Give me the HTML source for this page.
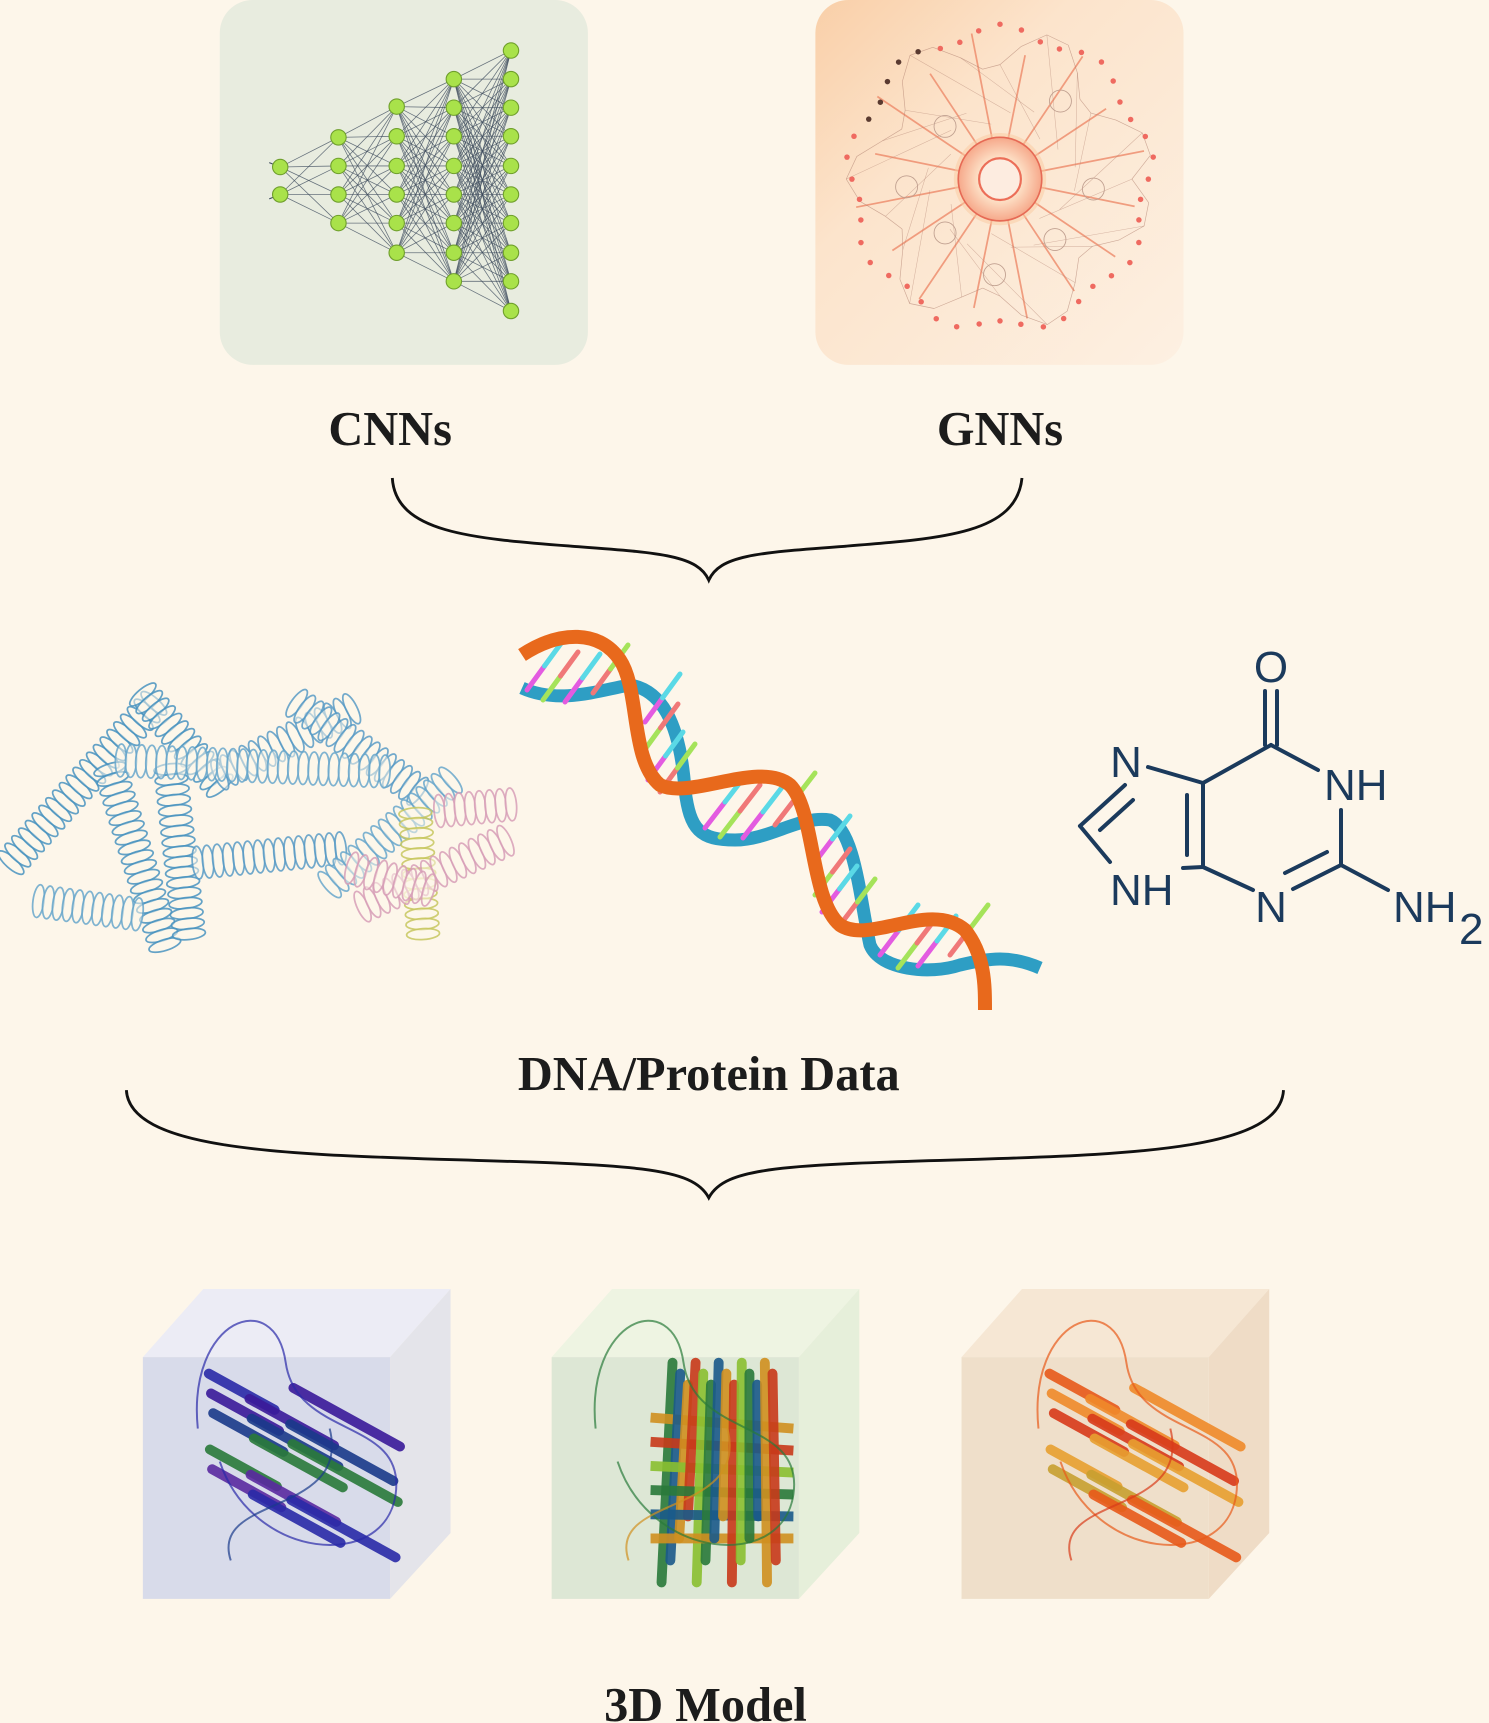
<!DOCTYPE html>
<html><head><meta charset="utf-8"><style>
html,body{margin:0;padding:0;background:#fdf6ea;}
svg{display:block}
.lbl{font-family:"Liberation Serif",serif;font-weight:bold;fill:#1c1c1c;}
.mol{font-family:"Liberation Sans",sans-serif;fill:#1b3a5c;font-size:44px}
</style></head><body>
<svg id="s" width="1489" height="1723" viewBox="0 0 1489 1723" xmlns="http://www.w3.org/2000/svg">
<defs>
<linearGradient id="gg" x1="0" y1="0" x2="1" y2="1">
<stop offset="0" stop-color="#f9cfa8"/><stop offset="0.35" stop-color="#fce4cc"/><stop offset="1" stop-color="#fdf0e2"/></linearGradient>
<radialGradient id="ring" cx="0.5" cy="0.5" r="0.5"><stop offset="0.5" stop-color="#fde2c8"/><stop offset="1" stop-color="#f6a88a"/></radialGradient>
</defs>
<rect width="1489" height="1723" fill="#fdf6ea"/>
<g transform="scale(1.0989)">
<rect x="200" y="0" width="335" height="332" rx="30" fill="#e8ecdf"/>
<g id="nn"></g>
<rect x="742" y="0" width="335" height="332" rx="30" fill="url(#gg)"/>
<g id="gnn"></g>
<text class="lbl" x="355" y="405" font-size="44" text-anchor="middle">CNNs</text>
<text class="lbl" x="910" y="405" font-size="44" text-anchor="middle">GNNs</text>
<path d="M357,435 C360,485 430,490 520,497 C600,503 635,505 645,528 C655,505 690,503 770,497 C860,490 925,485 930,435" fill="none" stroke="#111" stroke-width="2.6"/>
<g id="prot"></g>
<text class="lbl" x="645" y="992" font-size="44" text-anchor="middle">DNA/Protein Data</text>
<path d="M115,992 C118,1045 250,1050 400,1055 C580,1060 630,1062 645,1090 C660,1062 710,1060 890,1055 C1040,1050 1165,1045 1168,992" fill="none" stroke="#111" stroke-width="2.6"/>
<g id="cubes"></g>
<text class="lbl" x="642" y="1566" font-size="44" text-anchor="middle">3D Model</text>
</g>
<!-- DNA in original coords -->
<g id="dna">
<path d="M522,688 C560,705 600,690 630,685 C660,690 680,720 685,790 C690,830 700,840 735,840 C770,840 800,815 830,820 C855,830 860,900 870,945 C880,970 930,975 960,965 C990,958 1010,955 1040,968" fill="none" stroke="#2e9ec4" stroke-width="13"/>
<g id="rungs"></g>
<path d="M522,655 C560,630 600,630 620,660 C640,690 630,760 660,785 C690,800 760,760 790,785 C815,810 810,900 840,925 C870,945 930,900 965,930 C985,955 985,985 985,1010" fill="none" stroke="#e8691c" stroke-width="14"/>
</g>
<!-- guanine -->
<g stroke="#1b3a5c" stroke-width="4" fill="none" stroke-linecap="round">
<line x1="1265" y1="691" x2="1265" y2="745"/><line x1="1277" y1="691" x2="1277" y2="745"/>
<line x1="1271" y1="745" x2="1318" y2="770"/>
<line x1="1341" y1="810" x2="1341" y2="865"/>
<line x1="1341" y1="865" x2="1293" y2="889"/><line x1="1327" y1="852" x2="1285" y2="873"/>
<line x1="1341" y1="865" x2="1388" y2="890"/>
<line x1="1253" y1="890" x2="1203" y2="867"/>
<line x1="1203" y1="867" x2="1203" y2="783"/><line x1="1187" y1="795" x2="1187" y2="855"/>
<line x1="1203" y1="783" x2="1271" y2="745"/>
<line x1="1203" y1="783" x2="1148" y2="767"/>
<line x1="1125" y1="785" x2="1080" y2="826"/><line x1="1133" y1="800" x2="1100" y2="830"/>
<line x1="1080" y1="826" x2="1110" y2="862"/>
<line x1="1183" y1="868" x2="1203" y2="867"/>
</g>
<text class="mol" x="1271" y="682" text-anchor="middle">O</text>
<text class="mol" x="1324" y="800">NH</text>
<text class="mol" x="1126" y="777" text-anchor="middle">N</text>
<text class="mol" x="1110" y="905">NH</text>
<text class="mol" x="1271" y="922" text-anchor="middle">N</text>
<text class="mol" x="1393" y="922">NH</text>
<text class="mol" x="1459" y="944" font-size="34">2</text>
</svg>
<script>
var NS="http://www.w3.org/2000/svg";
function el(p,t,a){var e=document.createElementNS(NS,t);for(var k in a)e.setAttribute(k,a[k]);p.appendChild(e);return e;}
// NN
var nn=document.getElementById('nn');
var layers=[[255,[152,177]],[308,[125,151,177,203]],[361,[97,124,151,177,203,230]],[413,[72,98,124,151,177,203,230,256]],[465,[46,72,98,124,151,177,203,230,256,283]]];
for(var i=0;i<layers.length-1;i++){var a=layers[i],b=layers[i+1];a[1].forEach(function(y1){b[1].forEach(function(y2){el(nn,'line',{x1:a[0],y1:y1,x2:b[0],y2:y2,stroke:'#3c4a5c','stroke-width':0.7,opacity:0.75});});});}
el(nn,'line',{x1:245,y1:148,x2:255,y2:152,stroke:'#3c4a5c'});el(nn,'line',{x1:245,y1:181,x2:255,y2:177,stroke:'#3c4a5c'});
layers.forEach(function(l){l[1].forEach(function(y){el(nn,'circle',{cx:l[0],cy:y,r:7,fill:'#a9e24a',stroke:'#6f9f2c','stroke-width':1});});});
// GNN
var g=document.getElementById('gnn'),cx=910,cy=163;
for(var k=0;k<16;k++){var an=k/16*2*Math.PI+0.2;var R=125+10*Math.sin(k*3);el(g,'line',{x1:cx+35*Math.cos(an),y1:cy+35*Math.sin(an),x2:cx+R*Math.cos(an),y2:cy+R*Math.sin(an),stroke:'#ee8a6a','stroke-width':1.6,opacity:0.8});}
var pts=[];for(var k=0;k<40;k++){var an=k/40*2*Math.PI;var R=120+20*Math.sin(k*7.3);pts.push([cx+R*Math.cos(an),cy+R*Math.sin(an)]);}
for(var k=0;k<40;k++){var p=pts[k],q=pts[(k+1)%40],r=pts[(k+5)%40];el(g,'line',{x1:p[0],y1:p[1],x2:q[0],y2:q[1],stroke:'#b08070','stroke-width':0.6,opacity:0.6});if(k%2==0)el(g,'line',{x1:p[0],y1:p[1],x2:(r[0]+cx)/2,y2:(r[1]+cy)/2,stroke:'#b08070','stroke-width':0.5,opacity:0.5});}
for(var k=0;k<44;k++){var an=k/44*2*Math.PI;var R=135+6*Math.sin(k*5);el(g,'circle',{cx:cx+R*Math.cos(an),cy:cy+R*Math.sin(an),r:2.5,fill:(k>24&&k<30)?'#5a3a30':'#ef6a60'});}
[[860,115],[965,92],[995,172],[825,170],[860,212],[960,218],[905,250]].forEach(function(c){el(g,'circle',{cx:c[0],cy:c[1],r:10,fill:'none',stroke:'#c0a090','stroke-width':0.8});});
el(g,'circle',{cx:cx,cy:cy,r:42,fill:'#f9c9a0',opacity:0.5});
el(g,'circle',{cx:cx,cy:cy,r:38,fill:'url(#ring)',stroke:'#e66a55','stroke-width':1.5});
el(g,'circle',{cx:cx,cy:cy,r:19,fill:'#fdece0',stroke:'#ec6e58','stroke-width':2});
// protein helices
var pr=document.getElementById('prot');
var H=[[10,785,140,640,'#4a94c0'],[130,632,200,715,'#4a94c0'],[200,705,320,645,'#5a9cc6'],[270,640,380,720,'#5a9cc6'],[100,700,150,860,'#4a94c0'],[155,700,172,850,'#4a94c0'],[35,820,125,832,'#6aa8cc'],[180,785,310,772,'#5a9cc6'],[110,692,350,702,'#6aa8cc'],[300,805,410,710,'#6aa8cc'],[378,740,385,850,'#c8c860'],[400,738,465,732,'#d8a0b8'],[330,825,460,765,'#d8a0b8'],[320,790,390,810,'#d8a0b8']];
H.forEach(function(h){var dx=h[2]-h[0],dy=h[3]-h[1],L=Math.hypot(dx,dy),n=Math.floor(L/9),ang=Math.atan2(dy,dx)*180/Math.PI;for(var i=0;i<=n;i++){var x=h[0]+dx*i/n,y=h[1]+dy*i/n;el(pr,'ellipse',{cx:x,cy:y,rx:5,ry:15,transform:'rotate('+ang+' '+x+' '+y+')',fill:'#fdf6ea','fill-opacity':0.6,stroke:h[4],'stroke-width':1.6,opacity:0.85});}});
// rungs
var ru=document.getElementById('rungs');
var groups=[[[527,690],[543,700],[565,702],[593,693],35,-48],[[645,722],[643,752],[648,780],[660,792],35,-48],[[705,828],[720,837],[743,838],[775,825],40,-52],[[815,862],[815,895],[822,912],[840,925],35,-46],[[880,955],[898,968],[918,966],[950,955],38,-50]];
var cols=[['#e35be0','#5ad9e6'],['#a5e35a','#f07878'],['#e35be0','#5ad9e6'],['#f07878','#a5e35a']];
groups.forEach(function(gr){for(var i=0;i<4;i++){var b=gr[i],dx=gr[4],dy=gr[5],c=cols[i];el(ru,'line',{x1:b[0],y1:b[1],x2:b[0]+dx/2,y2:b[1]+dy/2,stroke:c[0],'stroke-width':5,'stroke-linecap':'round'});el(ru,'line',{x1:b[0]+dx/2,y1:b[1]+dy/2,x2:b[0]+dx,y2:b[1]+dy,stroke:c[1],'stroke-width':5,'stroke-linecap':'round'});}});
// cubes
var cu=document.getElementById('cubes');
var C=[[130,'#d8dbea','#ececf5','#e4e4ea',['#2a2aa8','#3a1a9a','#1a3a8a','#2a7a3a','#5a2aa0']],[502,'#dde7d5','#eef4e2','#e6efda',['#2a7a3a','#1a5a8a','#d09020','#c83a1a','#8ac030']],[875,'#efdfca','#f6e7d4','#efdcc6',['#e85a1a','#f08a2a','#d83a1a','#e8a030','#c8a030']]];
C.forEach(function(c,ci){var x=c[0];
el(cu,'polygon',{points:x+',1235 '+(x+55)+',1173 '+(x+280)+',1173 '+(x+225)+',1235',fill:c[2]});
el(cu,'polygon',{points:(x+225)+',1235 '+(x+280)+',1173 '+(x+280)+',1395 '+(x+225)+',1455',fill:c[3]});
el(cu,'rect',{x:x,y:1235,width:225,height:220,fill:c[1]});
var ox=x+(ci==0?40:ci==1?30:60),cols=c[4];
for(var i=0;i<14;i++){var sx=ox+20+(i*37)%110,sy=1250+(i*23)%120,ln=60+(i*17)%50;var col=cols[i%cols.length];
if(ci==1){el(cu,'line',{x1:ox+80+i*7,y1:1240+(i%3)*10,x2:ox+70+i*8,y2:1440-(i%4)*20,stroke:col,'stroke-width':9,'stroke-linecap':'round',opacity:0.9});if(i<6)el(cu,'line',{x1:ox+60,y1:1290+i*22,x2:ox+190,y2:1300+i*20,stroke:cols[(i+2)%5],'stroke-width':9,opacity:0.9});}
else{el(cu,'line',{x1:sx,y1:sy,x2:sx+ln,y2:sy+ln*0.55,stroke:col,'stroke-width':9,'stroke-linecap':'round',opacity:0.9});}}
el(cu,'path',{d:'M'+(ox+10)+',1300 C'+(ox+0)+',1200 '+(ox+80)+',1170 '+(ox+90)+',1240 S'+(ox+200)+',1290 '+(ox+190)+',1360 S'+(ox+60)+',1420 '+(ox+30)+',1330',fill:'none',stroke:cols[0],'stroke-width':1.8,opacity:0.7});
el(cu,'path',{d:'M'+(ox+40)+',1420 C'+(ox+20)+',1360 '+(ox+150)+',1380 '+(ox+130)+',1300',fill:'none',stroke:cols[2],'stroke-width':1.8,opacity:0.7});
});
</script>
</body></html>
